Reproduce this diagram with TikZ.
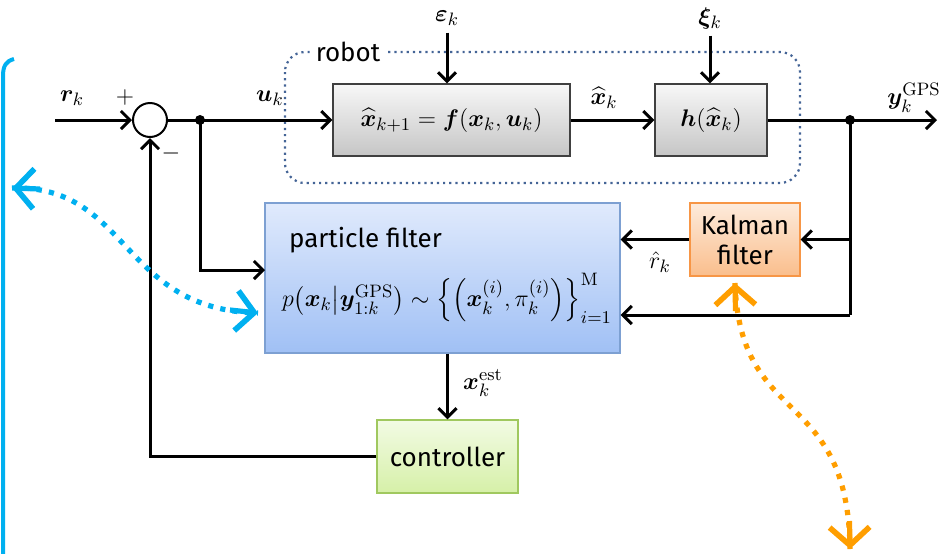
\documentclass[tikz,border=0pt]{standalone}
\usepackage[no-math]{fontspec}
\setmainfont{Fira Sans}
\usepackage{amsmath,bm}
\usetikzlibrary{arrows.meta}
\definecolor{hintblue}{RGB}{0,176,240}
\definecolor{hintorange}{RGB}{255,158,0}
\definecolor{robotline}{RGB}{68,100,150}
\definecolor{pftop}{RGB}{224,234,252}
\definecolor{pfbot}{RGB}{160,192,245}
\definecolor{pfline}{RGB}{125,160,210}
\definecolor{kftop}{RGB}{253,235,220}
\definecolor{kfbot}{RGB}{250,190,140}
\definecolor{kfline}{RGB}{247,150,70}
\definecolor{cttop}{RGB}{242,251,228}
\definecolor{ctbot}{RGB}{214,240,168}
\definecolor{ctline}{RGB}{160,200,95}
\begin{document}
\begin{tikzpicture}[x=0.5pt,y=-0.5pt,
    font=\fontsize{13}{15}\selectfont,
    wire/.style={line width=1.5pt},
    sig/.style={wire,-{Straight Barb[length=4.5pt,width=9pt,line width=1.5pt]}},
    plant/.style={draw=black!75,line width=0.6pt,top color=gray!6,bottom color=gray!45,
        minimum height=36pt,inner sep=0pt},
    hint/.style={line width=2.6pt,dash pattern=on 2.6pt off 3.6pt},
    hinttip/.style={line width=2.6pt,solid,-{Straight Barb[length=9pt,width=20pt,line width=2.8pt]}}]
\useasboundingbox (0,0) rectangle (944,553);

% left frame
\draw[hintblue,line width=2pt] (3,560) -- (3,76) .. controls (3,66) and (6,61) .. (14,59);

% robot
\draw[robotline,line width=1.1pt,dotted,rounded corners=10pt] (285,52) rectangle (800,183);
\node[fill=white,inner xsep=3pt,inner ysep=0pt] (robot) at (348,52) {robot};

\node[plant,minimum width=118.5pt] (fbox) at (451.5,120)
    {$\widehat{\bm x}_{k+1}=\bm f(\bm x_k,\bm u_k)$};
\node[plant,minimum width=56pt] (hbox) at (711,120) {$\bm h(\widehat{\bm x}_k)$};
\node (eps) at (447,18) {$\bm\varepsilon_k$};
\node (xi) at (710,18) {$\bm\xi_k$};
\draw[sig] (eps.south) -- (eps.south |- fbox.north);
\draw[sig] (xi.south) -- (xi.south |- hbox.north);

% summing junction
\node[draw,circle,line width=1pt,minimum size=17pt,inner sep=0pt] (sum) at (150,120) {};
\node (plus) at (125,97) {$+$};
\node (minus) at (171,153) {$-$};
\coordinate (rin) at (55,120);
\node (rk) at (72,98) {$\bm r_k$};
\draw[sig] (rin) -- (sum.west);

\coordinate (j1) at (200,120);
\coordinate (j2) at (850,120);
\coordinate (yout) at (937,120);
\draw[wire] (sum.east) -- (j1);
\draw[sig] (j1) -- (fbox.west);
\node (uk) at (270,98) {$\bm u_k$};
\draw[sig] (fbox.east) -- (hbox.west);
\node (xk) at (604,98) {$\widehat{\bm x}_k$};
\draw[wire] (hbox.east) -- (j2);
\draw[sig] (j2) -- (yout);
\node (yk) at (914,98) {$\bm y_k^{\mathrm{GPS}}$};
\fill (j1) circle (2.5pt);
\fill (j2) circle (2.5pt);

% estimation
\node[draw=pfline,line width=0.7pt,top color=pftop,bottom color=pfbot,
    minimum width=177.5pt,minimum height=75pt] (pf) at (442.5,278) {};
\node[anchor=west] (pftitle) at (282,240) {particle filter};
\node (pfeq) at (447,298)
    {$p\bigl(\bm x_k\big|\bm y_{1:k}^{\mathrm{GPS}}\bigr)\sim
     \Bigl\{\Bigl(\bm x_k^{(i)},\pi_k^{(i)}\Bigr)\Bigr\}_{i=1}^{\mathrm{M}}$};
\node[draw=kfline,line width=0.7pt,top color=kftop,bottom color=kfbot,
    minimum width=55pt,minimum height=36.5pt,align=center,inner sep=0pt] (kf) at (745,239.5)
    {Kalman\\filter};
\node (rhat) at (660,262) {$\hat r_k$};
\node[draw=ctline,line width=0.7pt,top color=cttop,bottom color=ctbot,
    minimum width=70.5pt,minimum height=36.5pt] (ctrl) at (447.5,456.5) {controller};
\node (xest) at (483,383) {$\bm x_k^{\mathrm{est}}$};

\coordinate (pfin) at (265,270);
\coordinate (j3) at (850,315);
\draw[sig] (j1) |- (pfin);
\draw[wire] (j2) -- (j3);
\draw[sig] (j3) -- (pf.east |- j3);
\draw[sig] (j2 |- kf.east) -- (kf.east);
\draw[sig] (kf.west) -- (pf.east |- kf.west);
\draw[sig] (pf.south -| ctrl.north) -- (ctrl.north);
\draw[sig] (ctrl.west) -| (sum.south);

% hints
\coordinate (bl) at (12,188);
\coordinate (br) at (258,313);
\draw[hint,hintblue] (bl) .. controls (130,185) and (120,310) .. (br);
\draw[hinttip,hintblue] (40,189) -- (bl);
\draw[hinttip,hintblue] (230,310) -- (br);
\coordinate (ot) at (735,283);
\coordinate (ob) at (850,549);
\draw[hint,hintorange] (ot) .. controls (740,430) and (848,385) .. (ob);
\draw[hinttip,hintorange] (735.5,311) -- (ot);
\draw[hinttip,hintorange] (849.5,521) -- (ob);
\end{tikzpicture}
\end{document}
